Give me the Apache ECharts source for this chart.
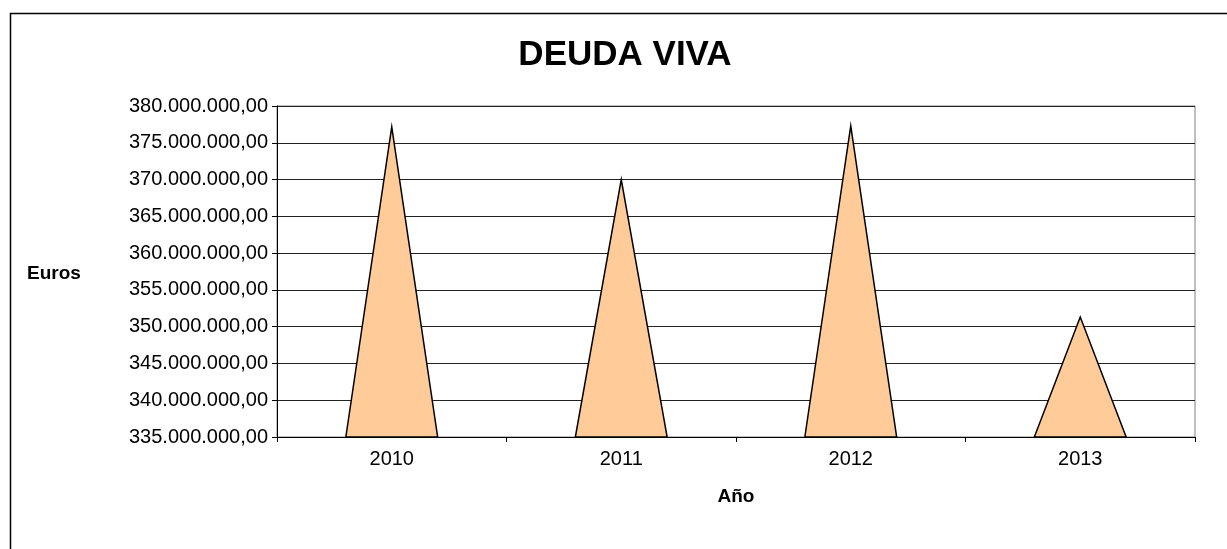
<!DOCTYPE html>
<html>
<head>
<meta charset="utf-8">
<script src="https://cdn.jsdelivr.net/npm/echarts@6/dist/echarts.min.js"></script>
<style>
  html, body { margin: 0; padding: 0; background: #fff; }
  #chart { width: 1227px; height: 549px; }
</style>
</head>
<body>
<div id="chart"></div>
<script>
const years = ['2010', '2011', '2012', '2013']
const deuda = [377150000, 370000000, 377300000, 351300000]

function fmt(v) {
  const s = Math.round(v).toString().replace(/\B(?=(\d{3})+(?!\d))/g, '.')
  return s + ',00'
}

const FONT = 'Liberation Sans, Arial, sans-serif'
const myChart = echarts.init(document.getElementById('chart'))
myChart.setOption({
  backgroundColor: '#fff',
  animation: false,
  textStyle: { fontFamily: FONT },
  graphic: [
    {
      type: 'rect',
      shape: { x: 10.5, y: 13.5, width: 1240, height: 560 },
      style: { fill: 'none', stroke: '#000', lineWidth: 1.5 },
      silent: true
    },
    {
      type: 'text',
      x: 625,
      y: 38,
      style: { text: 'DEUDA VIVA', textAlign: 'center', fontSize: 35, fontWeight: 'bold', fill: '#000', fontFamily: FONT }
    },
    {
      type: 'text',
      x: 27,
      y: 264,
      style: { text: 'Euros', fontSize: 19, fontWeight: 'bold', fill: '#000', fontFamily: FONT }
    }
  ],
  grid: { left: 277, right: 32, top: 106, bottom: 112, show: true, borderColor: '#808080', borderWidth: 1 },
  xAxis: {
    type: 'category',
    data: years,
    name: 'Año',
    nameLocation: 'middle',
    nameGap: 50,
    nameTextStyle: { fontSize: 19, fontWeight: 'bold', color: '#000' },
    axisLine: { lineStyle: { color: '#000', width: 1 } },
    axisTick: { show: true, length: 5, lineStyle: { color: '#000' } },
    axisLabel: { fontSize: 20, color: '#000', margin: 12 },
    splitLine: { show: false }
  },
  yAxis: {
    type: 'value',
    min: 335000000,
    max: 380000000,
    interval: 5000000,
    axisLine: { show: true, lineStyle: { color: '#000' } },
    axisTick: { show: true, length: 5, lineStyle: { color: '#000' } },
    axisLabel: { fontSize: 20, color: '#000', margin: 9, formatter: fmt },
    splitLine: { show: true, lineStyle: { color: '#222', width: 1 } }
  },
  series: [
    {
      type: 'custom',
      data: deuda.map((v, i) => [i, v]),
      renderItem: function (params, api) {
        const base = api.coord([api.value(0), 335000000])
        const top = api.coord([api.value(0), api.value(1)])
        const w = api.size([1, 0])[0] * 0.4
        return {
          type: 'polygon',
          shape: {
            points: [
              [base[0] - w / 2, base[1]],
              [top[0], top[1]],
              [base[0] + w / 2, base[1]]
            ]
          },
          style: { fill: '#FFCC99', stroke: '#000', lineWidth: 1.5 }
        }
      }
    }
  ]
})
window.addEventListener('resize', () => { myChart.resize() })
</script>
</body>
</html>
